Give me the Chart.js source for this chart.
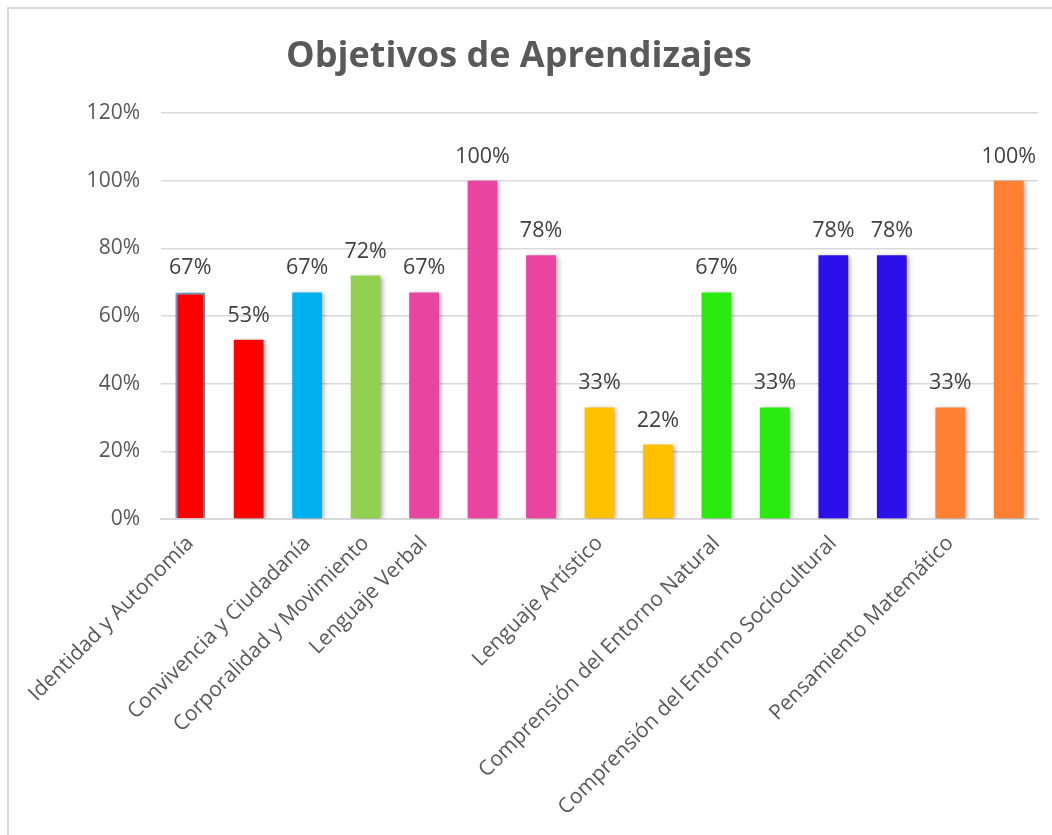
<!DOCTYPE html>
<html>
<head>
<meta charset="utf-8">
<script src="https://cdn.jsdelivr.net/npm/chart.js@4/dist/chart.umd.min.js"></script>
<style>
  html, body { margin: 0; padding: 0; background: #ffffff; overflow: hidden; }
  #wrap { position: relative; width: 1052px; height: 835px; }
  #frame { position: absolute; left: 7px; top: 7px; right: -20px; bottom: -20px;
           border-left: 2px solid #D9D9D9; border-top: 2px solid #D9D9D9; }
  canvas { position: absolute; left: 0; top: 0; }
</style>
</head>
<body>
<div id="wrap">
  <div id="frame"></div>
  <canvas id="c" width="1052" height="835"></canvas>
</div>
<script>
const chartTitle = "Objetivos de Aprendizajes";
const categories = [
  "Identidad y Autonomía", "", "Convivencia y Ciudadanía", "Corporalidad y Movimiento",
  "Lenguaje Verbal", "", "", "Lenguaje Artístico", "", "Comprensión del Entorno Natural",
  "", "Comprensión del Entorno Sociocultural", "", "Pensamiento Matemático", ""
];
const values = [0.67, 0.53, 0.67, 0.72, 0.67, 1.00, 0.78, 0.33, 0.22, 0.67, 0.33, 0.78, 0.78, 0.33, 1.00];
const barColors = [
  "#FF0000", "#FF0000", "#00B0F0", "#92D050", "#E945A0", "#E945A0", "#E945A0",
  "#FFC000", "#FFC000", "#2AEA0F", "#2AEA0F", "#2C10EA", "#2C10EA", "#FF8033", "#FF8033"
];
const yTicks = [0, 0.2, 0.4, 0.6, 0.8, 1.0, 1.2];

const FONT = "'Open Sans', 'DejaVu Sans', sans-serif";

const shadowPlugin = {
  id: 'barShadow',
  beforeDatasetDraw(chart) {
    const ctx = chart.ctx;
    ctx.save();
    ctx.shadowColor = 'rgba(0,0,0,0.35)';
    ctx.shadowBlur = 5;
    ctx.shadowOffsetX = 2;
    ctx.shadowOffsetY = 1;
  },
  afterDatasetDraw(chart) {
    chart.ctx.restore();
  }
};

const labelPlugin = {
  id: 'valueLabels',
  afterDatasetsDraw(chart) {
    const ctx = chart.ctx;
    const meta = chart.getDatasetMeta(0);
    ctx.save();
    ctx.font = "21.5px " + FONT;
    ctx.fillStyle = "#404040";
    ctx.textAlign = "center";
    ctx.textBaseline = "alphabetic";
    meta.data.forEach((bar, i) => {
      const v = chart.data.datasets[0].data[i];
      ctx.fillText(Math.round(v * 100) + "%", bar.x, bar.y - 18);
    });
    ctx.restore();
  }
};

new Chart(document.getElementById('c'), {
  type: 'bar',
  data: {
    labels: categories,
    datasets: [{
      data: values,
      backgroundColor: barColors,
      borderColor: values.map((v, i) => i === 0 ? '#6A9FD8' : 'rgba(0,0,0,0)'),
      borderWidth: values.map((v, i) => i === 0 ? 2 : 0),
      categoryPercentage: 1,
      barPercentage: 0.51
    }]
  },
  options: {
    responsive: false,
    animation: false,
    devicePixelRatio: 1,
    layout: { padding: { left: 0, right: 14, top: 0, bottom: 0 } },
    plugins: {
      legend: { display: false },
      tooltip: { enabled: false },
      title: {
        display: true,
        text: chartTitle,
        color: '#595959',
        font: { family: FONT, size: 36, weight: 'bold' },
        padding: { top: 35, bottom: 35 }
      }
    },
    scales: {
      x: {
        grid: { display: false, drawTicks: false },
        border: { display: true, color: '#D9D9D9', width: 2 },
        ticks: {
          autoSkip: false,
          minRotation: 45,
          maxRotation: 45,
          color: '#595959',
          font: { family: FONT, size: 21 },
          padding: 12
        },
        afterFit(scale) { scale.height = 316; }
      },
      y: {
        min: 0,
        max: 1.2,
        afterBuildTicks(scale) { scale.ticks = yTicks.map(v => ({ value: v })); },
        grid: { color: '#D9D9D9', lineWidth: 1.5, drawTicks: false },
        border: { display: false },
        ticks: {
          color: '#595959',
          font: { family: FONT, size: 21 },
          padding: 21,
          callback: (v) => Math.round(v * 100) + '%'
        },
        afterFit(scale) { scale.width = 161; }
      }
    }
  },
  plugins: [shadowPlugin, labelPlugin]
});
</script>
</body>
</html>
